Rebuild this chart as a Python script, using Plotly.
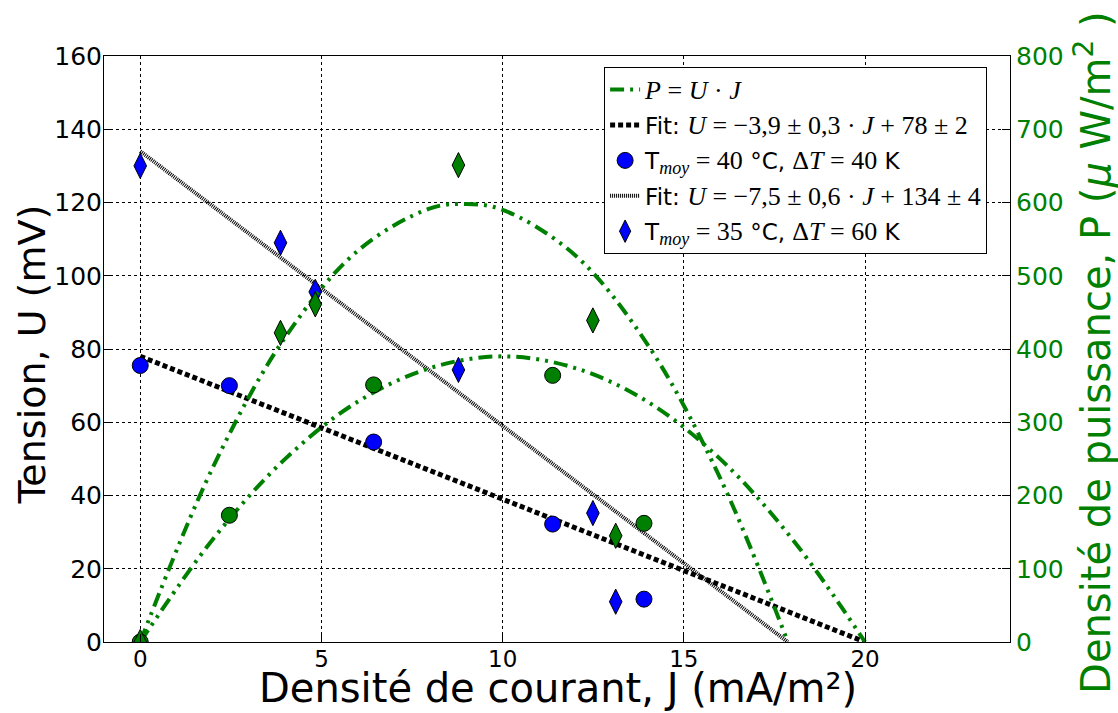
import plotly.graph_objects as go

# Tmoy = 40 °C, dT = 40 K
J_40 = [0, 2.46, 6.44, 11.38, 13.9]
U_40 = [75.5, 70.0, 54.6, 32.2, 11.7]
P_40 = [0, 173, 351, 364, 162]

# Tmoy = 35 °C, dT = 60 K
J_35 = [0, 3.87, 4.83, 8.78, 12.49, 13.12]
U_35 = [130, 109, 95.6, 74.3, 35.2, 11.0]
P_35 = [0, 422, 461, 651, 439, 145]

# linear fits U(J)
fit40_J = [0, 20]
fit40_U = [78, 0]
fit35_J = [0, 17.87]
fit35_U = [134, 0]

# power curves P = U.J from the fits
pow40_J = [0, 2, 4, 6, 8, 10, 12, 14, 16, 18, 20]
pow40_P = [0, 140, 250, 328, 374, 390, 374, 328, 250, 140, 0]
pow35_J = [0, 2, 4, 6, 8, 9, 10, 12, 14, 16, 17.87]
pow35_P = [0, 238, 416, 534, 592, 598, 590, 528, 406, 224, 0]

x_ticks = [0, 5, 10, 15, 20]

GREEN = "#008000"
BLUE = "#0000ff"
FONT = "DejaVu Sans"
MATH = "Liberation Serif"


def m(s, size=26):
    # italic math-like text
    return f"<span style='font-family:{MATH};font-size:{size}px'><i>{s}</i></span>"


def ms(s):
    return f"<span style='font-family:{MATH};font-size:26px'>{s}</span>"


green_dash = "14px,6px,3px,6px,3px,6px"

fig = go.Figure()

fig.add_trace(go.Scatter(x=pow40_J, y=pow40_P, yaxis="y2", mode="lines",
                         line=dict(color=GREEN, width=4, dash=green_dash, shape="spline"),
                         name=f"{m('P')}{ms(' = ')}{m('U')}{ms(' · ')}{m('J')}",
                         legendrank=1, legendgroup="a"))
fig.add_trace(go.Scatter(x=pow35_J, y=pow35_P, yaxis="y2", mode="lines",
                         line=dict(color=GREEN, width=4, dash=green_dash, shape="spline"),
                         showlegend=False))

fig.add_trace(go.Scatter(x=fit40_J, y=fit40_U, mode="lines",
                         line=dict(color="black", width=5, dash="5px,3px"),
                         name=f"Fit: {m('U')}{ms(' = −3,9 ± 0,3 · ')}{m('J')}{ms(' + 78 ± 2')}",
                         legendrank=2, legendgroup="b"))
fig.add_trace(go.Scatter(x=fit35_J, y=fit35_U, mode="lines",
                         line=dict(color="black", width=4, dash="1px,1px"),
                         name=f"Fit: {m('U')}{ms(' = −7,5 ± 0,6 · ')}{m('J')}{ms(' + 134 ± 4')}",
                         legendrank=4, legendgroup="d"))

fig.add_trace(go.Scatter(x=J_40, y=U_40, mode="markers",
                         marker=dict(symbol="circle", size=16, color=BLUE,
                                     line=dict(color="black", width=1)),
                         name=f"T<sub>{m('moy', 18)}</sub>{ms(' = 40')} °C, {ms('Δ')}{m('T')}{ms(' = 40')} K",
                         legendrank=3, legendgroup="c"))
fig.add_trace(go.Scatter(x=J_35, y=U_35, mode="markers",
                         marker=dict(symbol="diamond-tall", size=18, color=BLUE,
                                     line=dict(color="black", width=1)),
                         name=f"T<sub>{m('moy', 18)}</sub>{ms(' = 35')} °C, {ms('Δ')}{m('T')}{ms(' = 60')} K",
                         legendrank=5, legendgroup="e"))

fig.add_trace(go.Scatter(x=J_40, y=P_40, yaxis="y2", mode="markers",
                         marker=dict(symbol="circle", size=16, color=GREEN,
                                     line=dict(color="black", width=1)),
                         showlegend=False))
fig.add_trace(go.Scatter(x=J_35, y=P_35, yaxis="y2", mode="markers",
                         marker=dict(symbol="diamond-tall", size=18, color=GREEN,
                                     line=dict(color="black", width=1)),
                         showlegend=False))

axis_common = dict(showline=True, linecolor="black", linewidth=1,
                   ticks="inside", ticklen=8, tickcolor="black",
                   zeroline=False)

fig.update_xaxes(range=[-1, 24], tickvals=x_ticks, mirror=True,
                 showgrid=True, gridcolor="black", griddash="dot", gridwidth=1,
                 tickfont=dict(size=23, color="black", family=FONT),
                 ticklabelstandoff=-4,
                 **axis_common)

fig.update_layout(
    width=1118, height=713,
    margin=dict(l=104, r=108, t=56, b=71),
    plot_bgcolor="white", paper_bgcolor="white",
    font=dict(family=FONT, color="black"),
    yaxis=dict(range=[0, 160], dtick=20, mirror=True,
               showgrid=True, gridcolor="black", griddash="dot", gridwidth=1,
               tickfont=dict(size=25, color="black", family=FONT),
               ticklabelstandoff=-4,
               **axis_common),
    yaxis2=dict(range=[0, 800], dtick=100, overlaying="y", side="right",
                showgrid=False,
                tickfont=dict(size=25, color=GREEN, family=FONT),
                **axis_common),
    legend=dict(x=0.552, y=0.981, xanchor="left", yanchor="top",
                bgcolor="white", bordercolor="black", borderwidth=1,
                tracegroupgap=2.5,
                font=dict(size=23, family=FONT, color="black")),
    showlegend=True,
    annotations=[
        dict(text="Densité de courant, J (mA/m²)", xref="paper", yref="paper",
             x=0.501, y=-0.079, xanchor="center", yanchor="middle",
             showarrow=False, font=dict(size=40, color="black", family=FONT)),
        dict(text="Tension, U (mV)", xref="paper", yref="paper",
             x=-0.08, y=0.49, xanchor="center", yanchor="middle", textangle=-90,
             showarrow=False, font=dict(size=38, color="black", family=FONT)),
        dict(text=f"Densité de puissance, P (<i>μ</i> W/m<sup>2</sup> )",
             xref="paper", yref="paper",
             x=1.0916, y=0.495, xanchor="center", yanchor="middle", textangle=-90,
             showarrow=False, font=dict(size=40, color=GREEN, family=FONT)),
    ],
)

fig.write_html("out.html", config={"displayModeBar": False},
               post_script="document.body.style.margin='0';")
